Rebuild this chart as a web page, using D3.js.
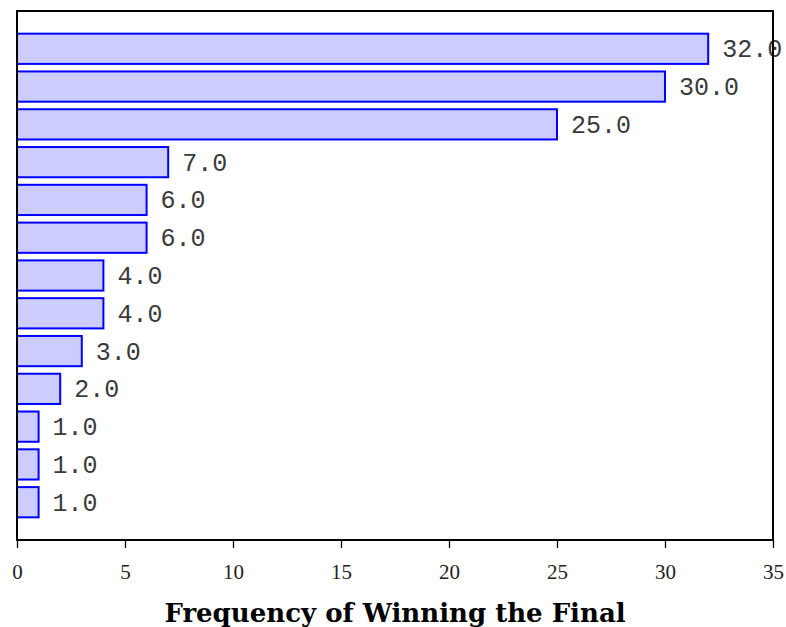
<!DOCTYPE html>
<html>
<head>
<meta charset="utf-8">
<script src="https://cdn.jsdelivr.net/npm/d3@7"></script>
<style>
  body { margin: 0; background: #fff; }
</style>
</head>
<body>
<div id="chart"></div>
<script>
// data, top bar first
const categories = ["A", "B", "C", "D", "E", "F", "G", "H", "I", "J", "K", "L", "M"];
const wins = [32, 30, 25, 7, 6, 6, 4, 4, 3, 2, 1, 1, 1];
const xTicks = [0, 5, 10, 15, 20, 25, 30, 35];

const width = 786;
const height = 627;
const margin = { top: 11, right: 13, bottom: 87, left: 17 };

const svg = d3.select("#chart")
  .append("svg")
  .attr("width", width)
  .attr("height", height);

const x = d3.scaleLinear()
  .domain([0, 35])
  .range([margin.left, width - margin.right]);

const y = d3.scaleBand()
  .domain(categories)
  .range([margin.top, height - margin.bottom])
  .paddingInner(0.2)
  .paddingOuter(0.6);

// bars
svg.selectAll("rect.bar")
  .data(wins)
  .enter()
  .append("rect")
  .attr("class", "bar")
  .attr("x", x(0))
  .attr("y", (d, i) => y(categories[i]))
  .attr("width", d => x(d) - x(0))
  .attr("height", y.bandwidth())
  .attr("fill", "#ccccff")
  .attr("stroke", "#0000ff")
  .attr("stroke-width", 2);

// value labels
svg.selectAll("text.val")
  .data(wins)
  .enter()
  .append("text")
  .attr("class", "val")
  .attr("x", d => x(d) + 14)
  .attr("y", (d, i) => y(categories[i]) + y.bandwidth() / 2)
  .attr("dy", "0.34em")
  .style("font-family", "Liberation Mono, monospace")
  .style("font-size", "25px")
  .style("fill", "#3a3a3a")
  .text(d => d.toFixed(1));

// frame
svg.append("rect")
  .attr("x", x(0))
  .attr("y", margin.top)
  .attr("width", x(35) - x(0))
  .attr("height", height - margin.bottom - margin.top)
  .attr("fill", "none")
  .attr("stroke", "#000")
  .attr("stroke-width", 2);

// x axis
const axis = svg.append("g")
  .attr("transform", `translate(0,${height - margin.bottom})`)
  .call(d3.axisBottom(x).tickValues(xTicks).tickSize(8).tickPadding(16));
axis.select(".domain").remove();
axis.selectAll("line").attr("stroke", "#000").attr("stroke-width", 1.3);
axis.selectAll("text")
  .style("font-family", "Liberation Serif, serif")
  .style("font-size", "21px")
  .style("fill", "#222");

// title
svg.append("text")
  .attr("x", (x(0) + x(35)) / 2)
  .attr("y", 622)
  .attr("text-anchor", "middle")
  .style("font-family", "DejaVu Serif, serif")
  .style("font-weight", "bold")
  .style("font-size", "26px")
  .text("Frequency of Winning the Final");
</script>
</body>
</html>
